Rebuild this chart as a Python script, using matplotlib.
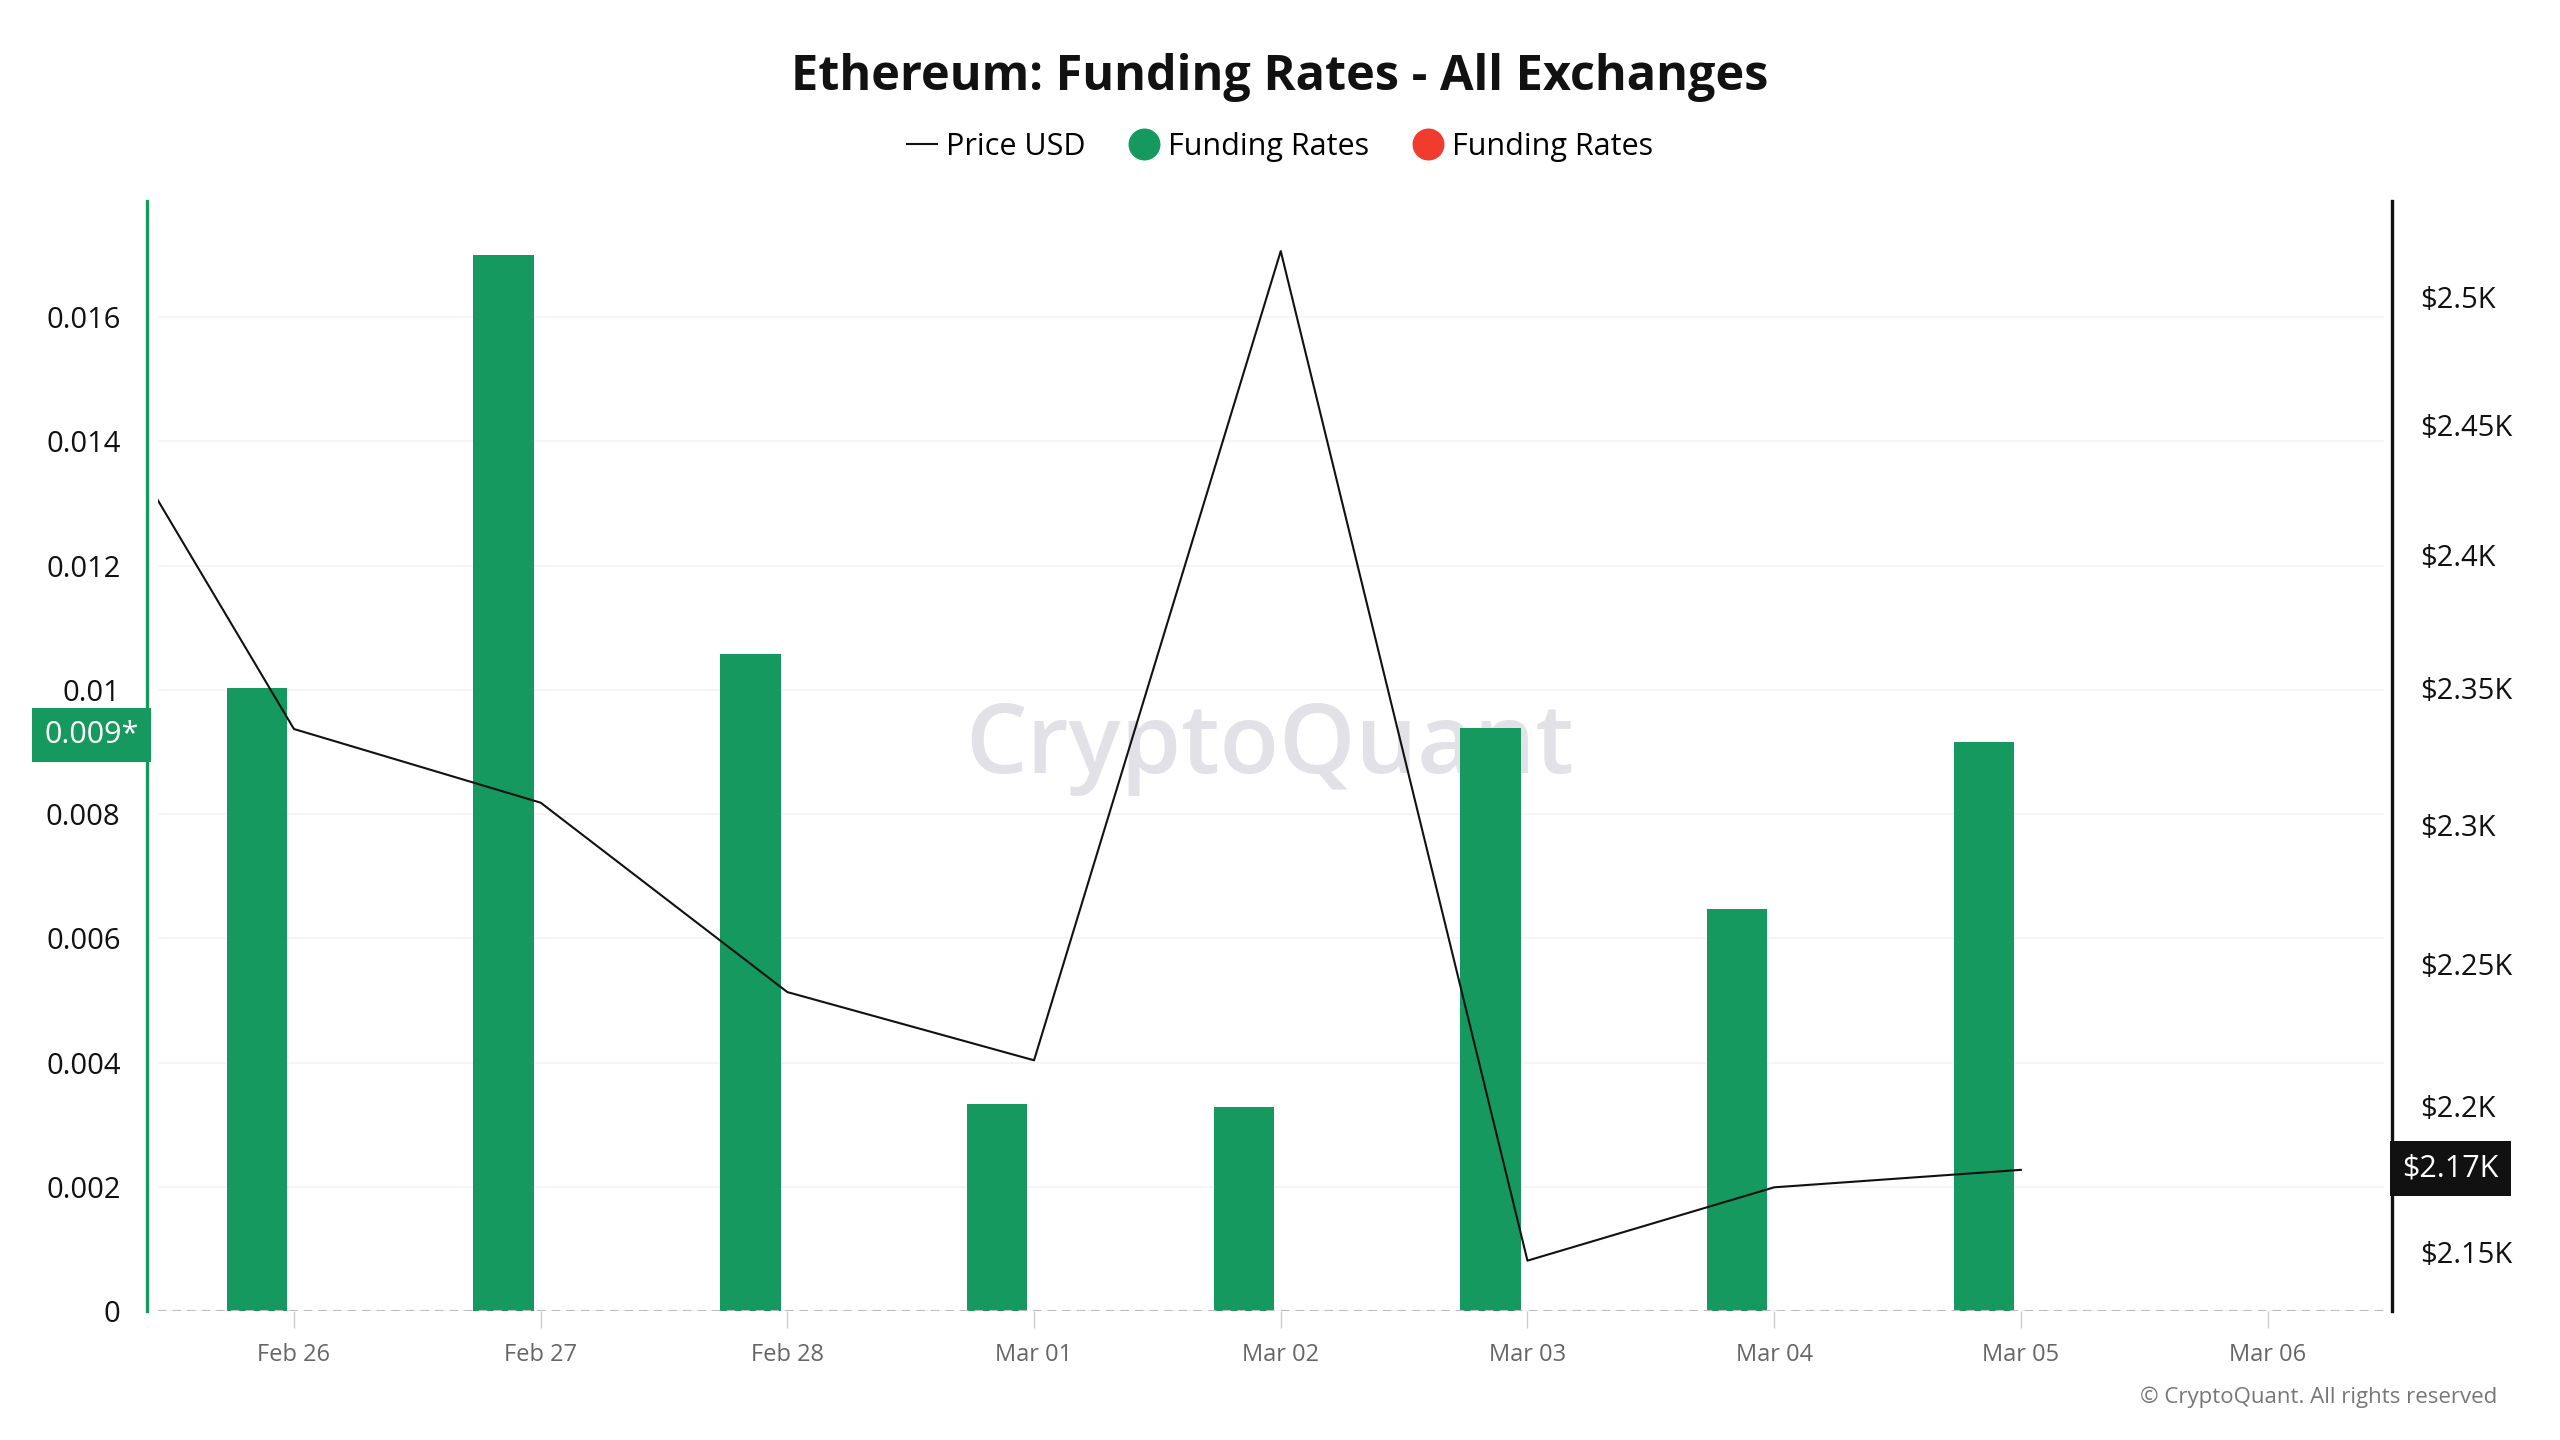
import numpy as np
import matplotlib
matplotlib.use("Agg")
import matplotlib.pyplot as plt
from matplotlib.lines import Line2D
from matplotlib.ticker import FixedLocator, NullLocator

plt.rcParams['font.family'] = ['Open Sans', 'DejaVu Sans']

# x tick labels (one per day)
day_labels = ['Feb 26', 'Feb 27', 'Feb 28', 'Mar 01', 'Mar 02',
              'Mar 03', 'Mar 04', 'Mar 05', 'Mar 06']

# funding rates, Feb 26 .. Mar 05
funding_rates = [0.01003, 0.0170, 0.01058, 0.00334, 0.00329,
                 0.00939, 0.00647, 0.00916]

# ETH price, Feb 25 .. Mar 05 (Feb 25 sits off the left edge)
price_usd = [2493, 2335, 2308, 2240, 2216, 2518, 2147, 2172, 2178]

left_ticks = [0, 0.002, 0.004, 0.006, 0.008, 0.01, 0.012, 0.014, 0.016]
left_tick_labels = ['0', '0.002', '0.004', '0.006', '0.008', '0.01',
                    '0.012', '0.014', '0.016']
right_ticks = [2150, 2200, 2250, 2300, 2350, 2400, 2450, 2500]
right_tick_labels = ['$2.15K', '$2.2K', '$2.25K', '$2.3K', '$2.35K',
                     '$2.4K', '$2.45K', '$2.5K']

GREEN = '#16995f'
RED = '#f03c2e'

W, H = 2560, 1440
fig = plt.figure(figsize=(W / 100, H / 100), dpi=100)
# plot area in pixels
x0, x1, y0, y1 = 158, 2384, 1311, 201
ax = fig.add_axes([x0 / W, 1 - y0 / H, (x1 - x0) / W, (y0 - y1) / H])
ax2 = ax.twinx()

# watermark, behind the bars
ax.text(0.496, 1 - 748 / H, 'CryptoQuant', transform=fig.transFigure,
        ha='center', va='center', fontsize=70, color='#e1e1e7',
        fontweight='semibold', zorder=1)

bar_x = np.arange(len(funding_rates)) - 0.15
ax.bar(bar_x, funding_rates, width=0.245, color=GREEN, zorder=2)

price_x = np.arange(len(price_usd)) - 1
ax2.plot(price_x, price_usd, color='#111111', lw=1.5, zorder=3)

ax.set_xlim(-0.551, 8.472)
ax.set_ylim(0, 0.01787)
ax2.set_yscale('log')
ax2.set_ylim(2130, 2538)

# left axis
ax.set_yticks(left_ticks)
ax.set_yticklabels(left_tick_labels)
ax.tick_params(axis='y', length=0, pad=19, labelsize=21, labelcolor='#111111')
ax.grid(axis='y', color='#f3f3f3', lw=1.2, zorder=0)
ax.set_axisbelow(True)

# right axis
ax2.yaxis.set_major_locator(FixedLocator(right_ticks))
ax2.yaxis.set_minor_locator(NullLocator())
ax2.set_yticklabels(right_tick_labels)
ax2.tick_params(axis='y', length=0, pad=20, labelsize=21, labelcolor='#111111')

# x axis
ax.set_xticks(np.arange(len(day_labels)))
ax.set_xticklabels(day_labels)
ax.tick_params(axis='x', length=12, width=1, color='#cccccc', pad=11,
               labelsize=17, labelcolor='#666666')

for a in (ax, ax2):
    for s in ('top', 'bottom', 'left', 'right'):
        a.spines[s].set_visible(False)
ax.spines['left'].set_visible(True)
ax.spines['left'].set_color(GREEN)
ax.spines['left'].set_linewidth(2.4)
ax.spines['left'].set_position(('outward', 8))
ax2.spines['right'].set_visible(True)
ax2.spines['right'].set_color('#111111')
ax2.spines['right'].set_linewidth(2.4)
ax2.spines['right'].set_position(('outward', 6))

ax.axhline(0, color='#bbbbbb', lw=1.5, ls=(0, (4, 3)), zorder=4)

# last value labels
ax.annotate('0.009*', xy=(0, funding_rates[-1]), xycoords=('axes fraction', 'data'),
            xytext=(-48, 5), textcoords='offset points', ha='center', va='center',
            fontsize=22, color='white', annotation_clip=False,
            bbox=dict(boxstyle='square,pad=0.4', fc=GREEN, ec='none'))
ax2.annotate('$2.17K', xy=(1, price_usd[-1]), xycoords=('axes fraction', 'data'),
             xytext=(48, 1), textcoords='offset points', ha='center', va='center',
             fontsize=22, color='white', annotation_clip=False,
             bbox=dict(boxstyle='square,pad=0.4', fc='#111111', ec='none'))

fig.suptitle('Ethereum: Funding Rates - All Exchanges', y=0.946, va='center',
             fontsize=35, fontweight='bold', color='#111111')

handles = [Line2D([], [], color='#111111', lw=1.5),
           Line2D([], [], marker='o', ls='', color=GREEN, markersize=22),
           Line2D([], [], marker='o', ls='', color=RED, markersize=22)]
fig.legend(handles, ['Price USD', 'Funding Rates', 'Funding Rates'],
           loc='center', bbox_to_anchor=(0.5, 0.898), ncol=3, frameon=False,
           fontsize=22, handlelength=1.0, handletextpad=0.3, columnspacing=1.4)

fig.text(2497 / W, 1 - 1397 / H, '\u00a9 CryptoQuant. All rights reserved',
         ha='right', va='center', fontsize=16, color='#777777')

fig.savefig('out.png', dpi=100)
